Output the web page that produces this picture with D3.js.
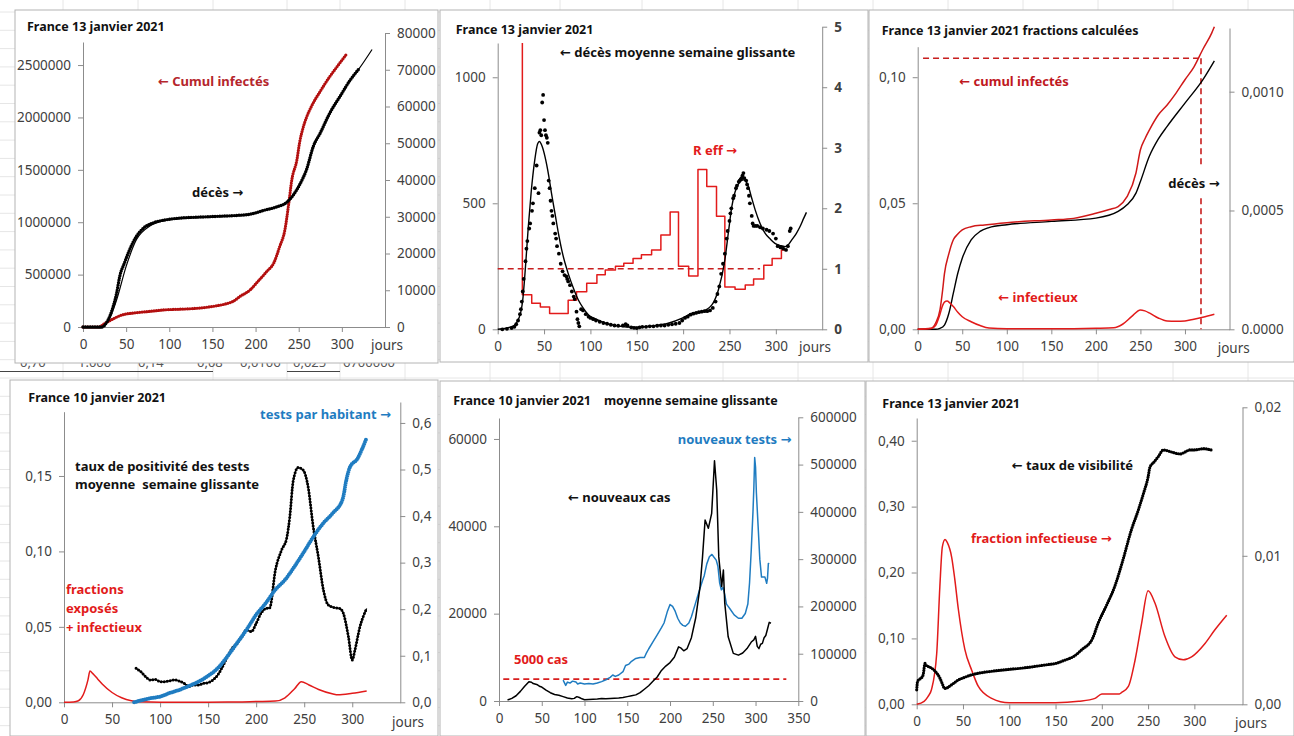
<!DOCTYPE html>
<html>
<head>
<meta charset="utf-8">
<script src="https://cdn.jsdelivr.net/npm/d3@7"></script>
<style>
body { margin: 0; background: #fff; }
svg { display: block; font-family: "Noto Sans", "DejaVu Sans", sans-serif; }
.axis path, .axis line { stroke: #8c8c8c; }
.axis text { font-size: 13.5px; fill: #404040; font-family: "Noto Sans", "DejaVu Sans", sans-serif; }
.lbl { font-weight: bold; font-size: 13px; }
.ttl { font-weight: bold; font-size: 12.5px; fill: #111; }
</style>
</head>
<body>
<script>
// ---- panneau 1 : cumuls
const cumulInfectes = [[0,0],[19,0],[23,22000],[31,60000],[46,117000],[58,133000],[77,149000],[97,165000],[116,171000],[135,181000],[155,203000],[166,222000],[174,245000],[182,292000],[194,356000],[201,419000],[213,530000],[221,610000],[228,769000],[234,928000],[238,1150000],[242,1404000],[248,1600000],[251,1760000],[255,1900000],[259,2000000],[265,2110000],[275,2250000],[286,2390000],[294,2480000],[306,2610000]];
const decesCumul = [[0,0],[22,0],[27,1100],[35,5600],[39,9250],[42.6,13800],[48,17400],[54,21000],[62,24700],[70,26900],[81,28300],[97,29200],[116,29700],[135,29900],[155,30100],[174,30300],[194,30700],[209,31700],[224,32650],[236,33900],[244,36000],[251,38700],[259,42800],[267,49200],[275,52800],[286,58200],[298,62800],[310,67300],[319,70000]];
const decesModele = [[0,0],[22,0],[27,900],[33,3500],[39,7400],[50,16500],[62,23800],[77,27400],[85,28300],[100,29200],[135,29900],[174,30300],[194,30700],[209,31700],[224,32650],[236,33900],[244,36000],[251,38700],[259,42800],[267,49000],[275,52800],[286,58000],[298,62800],[310,67300],[320,70300],[335,75500]];

// ---- panneau 2 : décès quotidiens et R eff
const decesJour = [[5,0],[10,2],[15,5],[18,10],[20,20],[22,35],[24,60],[25,80],[26,110],[27,150],[28,200],[30,270],[31,320],[32,350],[34,400],[35,420],[37,470],[38,500],[40,560],[42,650],[44,540],[45,780],[46,790],[47,770],[48,900],[49,930],[50,830],[51,790],[52,770],[53,760],[54,740],[55,590],[56,560],[57,510],[58,470],[59,450],[60,420],[62,380],[63,360],[64,330],[66,300],[68,260],[70,230],[72,215],[74,210],[75,200],[76,190],[78,175],[80,150],[82,130],[83,120],[85,70],[86,40],[87,25],[88,12],[90,80],[92,75],[95,60],[98,50],[100,45],[103,40],[106,35],[110,30],[114,25],[118,22],[122,18],[126,15],[130,14],[135,15],[138,20],[140,15],[144,8],[147,6],[150,5],[153,8],[156,10],[160,10],[164,12],[168,12],[172,14],[176,15],[180,15],[184,18],[188,20],[192,22],[196,25],[199,35],[202,45],[205,50],[208,58],[211,62],[214,65],[217,68],[220,70],[223,72],[226,72],[229,75],[232,85],[235,110],[237,140],[239,170],[241,220],[243,260],[245,300],[247,360],[248,390],[250,430],[251,460],[252,480],[254,520],[255,530],[257,560],[258,570],[260,585],[261,590],[262,595],[263,600],[264,610],[265,620],[266,600],[268,590],[269,575],[270,560],[271,530],[272,500],[274,450],[275,420],[276,410],[278,410],[280,410],[283,405],[286,400],[290,395],[293,390],[297,380],[300,360],[302,330],[305,325],[308,320],[311,315],[313,330],[315,390],[316,400]];
const decesLisse = [[0,0],[15,10],[20,25],[25,70],[27,116],[30,250],[33,407],[36,540],[40,672],[43,735],[45,745],[48,725],[51,685],[55,610],[58,540],[62,455],[65.5,381],[70,300],[76,222],[82,160],[87,116],[93,80],[98,57],[105,42],[112,30],[120,20],[130,13],[148,8],[166,13],[184,24],[199,44],[209,63],[220,70],[231,97],[238,156],[245,275],[249,390],[252.5,487],[256,545],[260,579],[265,593],[270.5,566],[274,520],[277.7,474],[283,420],[288.5,381],[294,358],[299,341],[305,332],[310,328],[313,334],[317,354],[322,380],[326,407],[330,440],[333,464]];
const reff = [[26.6,4.73],[26.6,0.57],[36.7,0.43],[46,0.37],[56,0.26],[76,0.48],[85,0.62],[96,0.76],[107,0.90],[116,0.98],[127,1.04],[136,1.09],[146,1.17],[155,1.23],[166,1.31],[176,1.56],[186,1.94],[195,1.04],[206,0.88],[216,2.64],[225.5,2.36],[236,1.87],[245,0.70],[256,0.66],[267,0.73],[276,0.83],[287,1.06],[296,1.17],[306,1.31],[310,1.31]];
const reffSeuil = 1, reffSeuilFin = 283;

// ---- panneau 3 : fractions calculées
const cumulFrac = [[0,0],[15,0.0004],[20,0.0024],[25,0.0077],[28,0.0156],[30,0.022],[35,0.030],[40,0.0355],[45,0.0378],[50,0.0394],[60,0.0407],[75,0.0414],[100,0.0423],[150,0.0434],[175,0.044],[200,0.046],[215,0.0475],[225,0.0487],[235,0.0526],[245,0.062],[250,0.0712],[255,0.0755],[260,0.079],[270,0.085],[280,0.089],[290,0.0937],[300,0.099],[310,0.104],[320,0.111],[330,0.1175],[333,0.120]];
const decesFrac = [[0,0],[20,0],[25,0.000004],[30,0.000018],[35,0.0000674],[40,0.000152],[45,0.000236],[50,0.000299],[60,0.000376],[70,0.000412],[80,0.000428],[100,0.00044],[150,0.000454],[200,0.000468],[225,0.000496],[235,0.000524],[245,0.000573],[250,0.000622],[260,0.000728],[270,0.0008],[280,0.000854],[300,0.000952],[320,0.00105],[333,0.00113]];
const infectieuxFrac = [[0,0],[15,0.0003],[20,0.0015],[25,0.006],[28,0.0095],[30,0.0108],[33,0.0112],[36,0.0105],[40,0.009],[45,0.0068],[50,0.005],[60,0.003],[70,0.0015],[80,0.0005],[100,0.0002],[150,0.0002],[200,0.0004],[220,0.0006],[230,0.002],[240,0.005],[250,0.0077],[255,0.0073],[260,0.0065],[270,0.0045],[280,0.0033],[290,0.0032],[300,0.0033],[310,0.004],[320,0.0048],[333,0.006]];
const refCumul = 0.1075, refDebut = 6, refJour = 318;

// ---- panneau 4 : positivité et tests
const positivite = [[75,0.0225],[80,0.0203],[85,0.017],[90,0.0148],[95,0.0152],[100,0.0137],[105,0.0137],[110,0.0143],[115,0.0148],[120,0.0141],[125,0.0126],[130,0.0104],[135,0.0115],[140,0.0115],[145,0.0126],[150,0.013],[155,0.0148],[160,0.0181],[165,0.0236],[170,0.0302],[175,0.0358],[180,0.039],[185,0.0435],[190,0.048],[195,0.0468],[200,0.0523],[205,0.059],[210,0.0622],[214,0.0625],[220,0.0876],[226.5,0.101],[231.7,0.1086],[235,0.123],[238.6,0.147],[243.8,0.1556],[249,0.1539],[254,0.143],[259.4,0.1163],[264.7,0.0965],[270,0.0744],[275,0.0645],[280,0.063],[287,0.0622],[290.7,0.059],[296,0.0435],[300,0.028],[302.8,0.0347],[308,0.0501],[315,0.0622]];
const testsHabitant = [[73,0],[80,0.004],[90,0.009],[100,0.0122],[110,0.02],[120,0.0266],[130,0.035],[140,0.0445],[150,0.0567],[160,0.0732],[170,0.0983],[180,0.127],[190,0.156],[200,0.188],[210,0.213],[220,0.242],[230,0.263],[240,0.292],[250,0.324],[260,0.357],[270,0.385],[280,0.407],[290,0.436],[294,0.479],[298,0.507],[305,0.522],[310,0.543],[315,0.568]];
const exposesInfectieux = [[0,0],[10,0.0002],[15,0.001],[20,0.005],[25,0.015],[27,0.0207],[30,0.019],[35,0.0155],[40,0.012],[50,0.0065],[60,0.003],[70,0.001],[80,0.0003],[100,0.0001],[150,0.0001],[180,0.0002],[200,0.0005],[220,0.0008],[230,0.003],[240,0.009],[247,0.0137],[255,0.0115],[265,0.0085],[280,0.0055],[285,0.005],[300,0.006],[315,0.0075]];

// ---- panneau 5 : nouveaux cas et tests
const nouveauxCas = [[10,230],[15,600],[20,1200],[25,2200],[30,3400],[35,4430],[38,4300],[40,4000],[45,3700],[48,3300],[50,3200],[55,2500],[60,1900],[65,1500],[70,1300],[75,1000],[80,700],[85,500],[88,600],[91,1000],[94,800],[97,500],[100,300],[105,350],[110,400],[115,450],[120,550],[125,500],[130,600],[135,650],[140,700],[145,800],[150,1000],[155,1200],[160,1400],[165,1900],[170,2700],[175,3500],[180,4500],[185,5500],[190,7000],[195,8000],[200,8800],[205,10000],[210,12400],[213,12100],[216,11500],[220,12000],[225,14500],[230,19000],[235,26000],[238,33000],[241,41450],[244.8,39540],[248.7,42980],[252,55000],[254.6,48300],[257,33000],[260.4,26200],[262.4,30000],[264,22400],[268,14700],[274,10900],[280,10500],[285,11000],[290,12000],[295,13500],[298,14000],[300,14800],[302,12500],[304,12000],[306,13000],[308,13200],[310,14500],[312,15000],[314,16500],[316,18000],[318,17800]];
const nouveauxTests = [[75,44000],[78,33000],[80,40000],[83,38000],[86,42000],[90,40000],[92,36000],[95,38000],[100,36000],[105,37000],[110,36000],[115,38000],[120,41000],[125,45000],[130,50000],[133,55000],[136,52000],[140,55000],[145,62000],[148,75000],[152,78000],[155,84000],[160,90000],[165,92000],[170,92000],[172,100000],[175,110000],[180,125000],[185,140000],[190,155000],[193,165000],[197,190000],[200,204000],[203,200000],[206,190000],[209,175000],[212,165000],[215,160000],[218,158000],[222,165000],[225,178000],[230,208000],[235,238000],[238,255000],[240,265000],[243,290000],[246,305000],[249,310000],[251,305000],[254,298000],[256,285000],[258,250000],[260,235000],[262,240000],[264,225000],[266,205000],[268,200000],[270,195000],[275,182000],[280,175000],[284,175000],[288,185000],[291,205000],[293,250000],[295,320000],[297,400000],[298,450000],[299,515000],[300,495000],[301,440000],[303,370000],[305,300000],[307,262000],[309,262000],[311,262000],[313,249000],[314,260000],[315,291000],[316,290000]];
const seuilCas = 5000, seuilDebut = 5, seuilFin = 336;

// ---- panneau 6 : visibilité
const visibilite = [[0,0.022],[1,0.035],[3,0.038],[5,0.04],[7,0.045],[9,0.062],[11,0.058],[13,0.057],[16,0.055],[20,0.05],[25,0.04],[28,0.03],[30,0.024],[33,0.025],[36,0.028],[40,0.032],[45,0.037],[50,0.04],[60,0.045],[70,0.048],[80,0.05],[100,0.053],[120,0.056],[140,0.06],[150,0.062],[160,0.067],[170,0.073],[178,0.0825],[190,0.1],[196,0.123],[205,0.15],[214,0.179],[222,0.215],[232,0.265],[239.5,0.295],[245,0.32],[250,0.345],[252,0.36],[256,0.367],[261,0.376],[266.5,0.386],[275,0.383],[280,0.381],[285,0.38],[290,0.383],[295,0.386],[300,0.386],[305,0.387],[310,0.388],[315,0.387],[318,0.386]];
const fracInfectieuse = [[0,0],[8,0.0002],[12,0.0005],[16,0.001],[21.6,0.0034],[25,0.0079],[27.7,0.0106],[30.6,0.0111],[33,0.0109],[37.8,0.0099],[41,0.0085],[45,0.0064],[52,0.0037],[59.4,0.0023],[66.6,0.0012],[81,0.0004],[100,0.0001],[150,0.0001],[175,0.0002],[192.7,0.0004],[200,0.0007],[212.5,0.0007],[219,0.0007],[221.5,0.0008],[228.7,0.0012],[236,0.003],[243,0.00545],[250,0.00765],[257.5,0.0068],[268,0.0046],[279,0.0032],[288,0.003],[297,0.0032],[311.5,0.0041],[322,0.005],[335,0.006]];

// restes de la feuille de calcul
const fragments = ['0,70', '1.000', '0,14', '0,08', '0,0106', '0,025', '6700000'];

const RED = '#e21b1b', DARKRED = '#b30f0f', BLUE = '#1f7cc1', TBLUE = '#3f8fc4';
const comma = f => d => d3.format(f)(d).replace('.', ',');

const svg = d3.select('body').append('svg').attr('width', 1294).attr('height', 736);

// quadrillage de fond
const grid = svg.append('g').attr('stroke', '#e6e6e6');
[63, 138, 213, 287, 340, 405, 490, 560, 642, 723, 798, 873, 948, 1023, 1098, 1173, 1248].forEach(x =>
  grid.append('line').attr('x1', x).attr('x2', x).attr('y1', 0).attr('y2', 736));
d3.range(12, 736, 18.3).forEach(y =>
  grid.append('line').attr('x1', 0).attr('x2', 1294).attr('y1', y).attr('y2', y));
const fx = [20, 78, 138, 197, 240, 293, 343];
fragments.forEach((t, i) => svg.append('text').attr('x', fx[i]).attr('y', 367)
  .attr('font-size', 13).attr('fill', '#555').text(t));
svg.append('line').attr('x1', 0).attr('x2', 213).attr('y1', 371.5).attr('y2', 371.5).attr('stroke', '#444');
svg.append('line').attr('x1', 287).attr('x2', 340).attr('y1', 371.5).attr('y2', 371.5).attr('stroke', '#444');

function panel(p) {
  const g = svg.append('g');
  g.append('rect').attr('x', p.frame[0]).attr('y', p.frame[1])
    .attr('width', p.frame[2] - p.frame[0]).attr('height', p.frame[3] - p.frame[1])
    .attr('fill', '#fff').attr('stroke', '#b4b4b4');
  const x = d3.scaleLinear().domain(p.xd).range(p.xr);
  const yL = d3.scaleLinear().domain(p.yld).range(p.ylr);
  const yR = d3.scaleLinear().domain(p.yrd).range(p.yrr);

  g.append('g').attr('class', 'axis').attr('transform', `translate(0,${p.ylr[0]})`)
    .call(d3.axisBottom(x).tickValues(p.xt).tickSize(5).tickPadding(7).tickSizeOuter(0));
  const al = g.append('g').attr('class', 'axis').attr('transform', `translate(${p.xr[0]},0)`)
    .call(d3.axisLeft(yL).tickValues(p.ylt).tickFormat(p.ylf).tickSize(5).tickPadding(7).tickSizeOuter(0));
  al.selectAll('text').attr('fill', p.ylc || '#404040');
  const ar = g.append('g').attr('class', 'axis').attr('transform', `translate(${p.xr[1]},0)`)
    .call(d3.axisRight(yR).tickValues(p.yrt).tickFormat(p.yrf).tickSize(5).tickPadding(7).tickSizeOuter(0));
  ar.selectAll('text').attr('fill', p.yrc || '#404040').attr('font-weight', p.yrw || null);
  g.selectAll('.domain').attr('stroke', '#8c8c8c');

  g.append('text').attr('class', 'ttl').attr('x', p.title[1]).attr('y', p.title[2])
    .attr('dominant-baseline', 'central').text(p.title[0]);
  if (p.jours) g.append('text').attr('x', p.jours[0]).attr('y', p.jours[1])
    .attr('dominant-baseline', 'central').attr('font-size', 13.5).attr('fill', '#404040').text('jours');
  return { g, x, yL, yR };
}

function label(g, t, x, y, color) {
  return g.append('text').attr('class', 'lbl').attr('x', x).attr('y', y)
    .attr('dominant-baseline', 'central').attr('fill', color).text(t);
}

function ligne(g, data, x, y, color, w, curve) {
  g.append('path').datum(data).attr('fill', 'none').attr('stroke', color).attr('stroke-width', w)
    .attr('stroke-linejoin', 'round')
    .attr('d', d3.line().x(d => x(d[0])).y(d => y(d[1])).curve(curve || d3.curveMonotoneX));
}

// chaîne de points serrés (marqueurs quotidiens)
function perles(g, data, x, y, color, w, gap) {
  g.append('path').datum(data).attr('fill', 'none').attr('stroke', color).attr('stroke-width', w)
    .attr('stroke-linecap', 'round').attr('stroke-dasharray', `0 ${gap}`)
    .attr('d', d3.line().x(d => x(d[0])).y(d => y(d[1])).curve(d3.curveMonotoneX));
}

function tiret(g, x1, y1, x2, y2, color) {
  g.append('line').attr('x1', x1).attr('y1', y1).attr('x2', x2).attr('y2', y2)
    .attr('stroke', color).attr('stroke-width', 1.6).attr('stroke-dasharray', '6 4');
}

const xt300 = d3.range(0, 301, 50);

// ---------- panneau 1
{
  const { g, x, yL, yR } = panel({
    frame: [15, 10, 438, 363], xd: [0, 350], xr: [83, 385], xt: xt300,
    yld: [0, 2720000], ylr: [327, 42], ylt: d3.range(0, 2500001, 500000), ylf: d3.format('d'), ylc: '#a3262c',
    yrd: [0, 80000], yrr: [327, 33], yrt: d3.range(0, 80001, 10000), yrf: d3.format('d'),
    title: ['France 13 janvier 2021', 27, 26], jours: [371, 345]
  });
  perles(g, cumulInfectes, x, yL, DARKRED, 3.2, 2.4);
  ligne(g, decesModele, x, yR, '#000', 1.2);
  perles(g, decesCumul, x, yR, '#000', 3.4, 2.4);
  label(g, '← Cumul infectés', 158, 80.7, '#b5262c');
  label(g, 'décès →', 192, 192, '#111');
}

// ---------- panneau 2
{
  const { g, x, yL, yR } = panel({
    frame: [440, 10, 868, 362], xd: [0, 350], xr: [497.7, 822.2], xt: xt300,
    yld: [0, 1136], ylr: [329.3, 43], ylt: [0, 500, 1000], ylf: d3.format('d'),
    yrd: [0, 5], yrr: [329.3, 26.7], yrt: d3.range(0, 6), yrf: d3.format('d'), yrc: RED, yrw: 'bold',
    title: ['France 13 janvier 2021', 455.7, 29.3], jours: [799, 346.7]
  });
  tiret(g, x(0), yR(reffSeuil), x(reffSeuilFin), yR(reffSeuil), '#c81e1e');
  ligne(g, reff, x, yR, RED, 1.5, d3.curveStepAfter);
  g.append('g').selectAll('circle').data(decesJour).join('circle')
    .attr('cx', d => x(d[0])).attr('cy', d => yL(d[1])).attr('r', 1.9).attr('fill', '#000');
  ligne(g, decesLisse, x, yL, '#000', 1.4);
  label(g, '← décès moyenne semaine glissante', 560, 52.3, '#111');
  label(g, 'R eff →', 693, 150, RED);
}

// ---------- panneau 3
{
  const { g, x, yL, yR } = panel({
    frame: [869, 10, 1294, 362], xd: [0, 350], xr: [917.7, 1229.5], xt: xt300,
    yld: [0, 0.1121], ylr: [329.3, 46.7], ylt: [0, 0.05, 0.10], ylf: comma('.2f'),
    yrd: [0, 0.001268], yrr: [329.3, 28], yrt: [0, 0.0005, 0.001], yrf: d => d === 0 ? '0.0000' : comma('.4f')(d),
    title: ['France 13 janvier 2021 fractions calculées', 881.7, 30.7], jours: [1217.7, 348.3]
  });
  tiret(g, x(refDebut), yL(refCumul), x(refJour), yL(refCumul), '#c81e1e');
  tiret(g, x(refJour), yL(refCumul), x(refJour), yL(0), '#c81e1e');
  ligne(g, decesFrac, x, yR, '#000', 1.4);
  ligne(g, cumulFrac, x, yL, '#d01818', 1.5);
  ligne(g, infectieuxFrac, x, yL, RED, 1.5);
  label(g, '← cumul infectés', 959.3, 81, '#c0181e');
  const d = label(g, 'décès →', 1168.3, 183, '#111');
  const bb = d.node().getBBox();
  g.insert('rect', 'text.lbl:last-of-type').attr('x', bb.x - 4).attr('y', bb.y - 6)
    .attr('width', bb.width + 8).attr('height', bb.height + 12).attr('fill', '#fff');
  d.raise();
  label(g, '← infectieux', 998.3, 297, RED);
}

// ---------- panneau 4
{
  const { g, x, yL, yR } = panel({
    frame: [10, 380, 438, 736], xd: [0, 350], xr: [64, 400.3], xt: xt300,
    yld: [0, 0.1926], ylr: [702.3, 411.7], ylt: [0, 0.05, 0.10, 0.15], ylf: comma('.2f'),
    yrd: [0, 0.645], yrr: [702.3, 402], yrt: d3.range(0, 0.61, 0.1), yrf: comma('.1f'), yrc: TBLUE,
    title: ['France 10 janvier 2021', 28.3, 397.3], jours: [392, 721.7]
  });
  ligne(g, exposesInfectieux, x, yL, RED, 1.5);
  ligne(g, positivite, x, yL, '#000', 1.3);
  perles(g, positivite, x, yL, '#000', 3, 3);
  perles(g, testsHabitant, x, yR, BLUE, 4, 2.2);
  label(g, 'tests par habitant →', 260, 414, BLUE);
  label(g, 'taux de positivité des tests', 75, 465.7, '#111');
  label(g, 'moyenne  semaine glissante', 75, 484.3, '#111').attr('xml:space', 'preserve');
  label(g, 'fractions', 66, 589.3, RED);
  label(g, 'exposés', 66, 608.3, RED);
  label(g, '+ infectieux', 66, 626.7, RED);
}

// ---------- panneau 5
{
  const { g, x, yL, yR } = panel({
    frame: [440, 381, 865, 736], xd: [0, 350], xr: [499, 798.3], xt: d3.range(0, 351, 50),
    yld: [0, 64800], ylr: [701, 418], ylt: [0, 20000, 40000, 60000], ylf: d3.format('d'),
    yrd: [0, 600000], yrr: [701, 417.3], yrt: d3.range(0, 600001, 100000), yrf: d3.format('d'), yrc: TBLUE,
    title: ['France 10 janvier 2021    moyenne semaine glissante', 453.3, 400]
  });
  g.select('text.ttl').attr('xml:space', 'preserve');
  tiret(g, x(seuilDebut), yL(seuilCas), x(seuilFin), yL(seuilCas), '#d81e1e');
  ligne(g, nouveauxTests, x, yR, BLUE, 1.5, d3.curveLinear);
  ligne(g, nouveauxCas, x, yL, '#000', 1.5, d3.curveLinear);
  label(g, 'nouveaux tests →', 677.7, 439.3, BLUE);
  label(g, '← nouveaux cas', 568, 496.7, '#111');
  label(g, '5000 cas', 514, 659.3, RED);
}

// ---------- panneau 6
{
  const { g, x, yL, yR } = panel({
    frame: [866, 381, 1294, 736], xd: [0, 352], xr: [916.7, 1242.5], xt: xt300,
    yld: [0, 0.4345], ylr: [704.3, 418], ylt: [0, 0.1, 0.2, 0.3, 0.4], ylf: comma('.2f'),
    yrd: [0, 0.02], yrr: [704.3, 407.3], yrt: [0, 0.01, 0.02], yrf: comma('.2f'), yrc: '#d42a2a',
    title: ['France 13 janvier 2021', 882.3, 403.3], jours: [1235, 723.3]
  });
  ligne(g, fracInfectieuse, x, yR, RED, 1.5);
  perles(g, visibilite, x, yL, '#000', 3.2, 2.4);
  label(g, '← taux de visibilité', 1011.7, 465, '#111');
  label(g, 'fraction infectieuse →', 971, 538.3, RED);
}
</script>
</body>
</html>
